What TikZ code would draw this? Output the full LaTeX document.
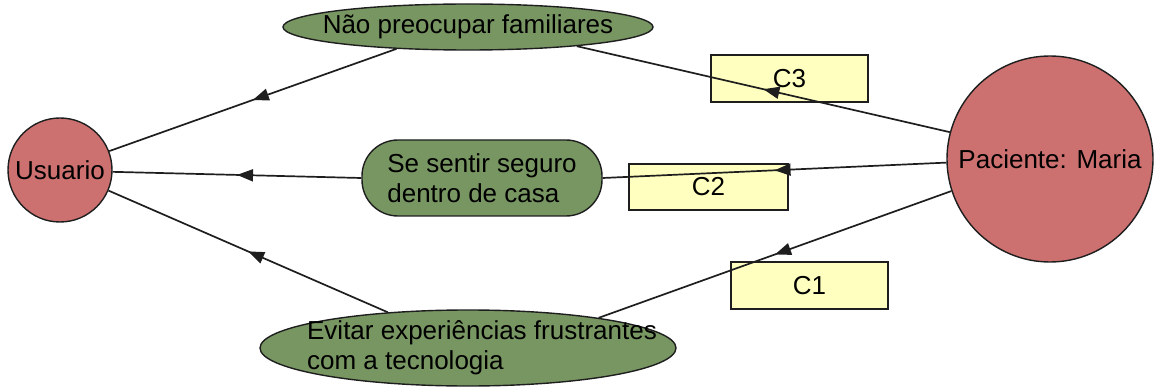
\documentclass[tikz,border=0pt]{standalone}
\usepackage{fontspec}
\setmainfont{Liberation Sans}
\usetikzlibrary{shapes.geometric,decorations.markings,arrows.meta,calc}
\definecolor{actorred}{RGB}{204,112,112}
\definecolor{goalgreen}{RGB}{120,150,98}
\definecolor{notefill}{RGB}{255,255,192}
\definecolor{edgecol}{RGB}{30,30,30}
\begin{document}
\begin{tikzpicture}[x=1pt,y=-1pt,
  every node/.style={font=\fontsize{26}{30}\selectfont, text=black},
  actor/.style={circle, draw=edgecol, line width=1.4pt, fill=actorred, inner sep=0pt},
  goalell/.style={ellipse, draw=edgecol, line width=1.4pt, fill=goalgreen, inner sep=0pt},
  goalrr/.style={rectangle, rounded corners=36pt, draw=edgecol, line width=1.4pt, fill=goalgreen, inner sep=0pt, align=left},
  notebox/.style={rectangle, draw=edgecol, line width=1.4pt, fill=notefill, inner sep=0pt},
  link/.style={draw=edgecol, line width=1.7pt, postaction={decorate},
    decoration={markings, mark=at position 0.5 with {\arrow{Triangle[length=16pt,width=12pt]}}}},
  txt/.style={inner sep=0pt, align=left}
]
\useasboundingbox (0,0) rectangle (1154,390);

% notes (drawn first, lines pass over them)
\node[notebox, minimum width=157, minimum height=47] (c3) at (789.5,78.5) {C3};
\node[notebox, minimum width=159, minimum height=46] (c2) at (708.5,187) {C2};
\node[notebox, minimum width=157, minimum height=47] (c1) at (809.5,285.5) {C1};

% actors
\node[actor, minimum size=104] (usu) at (60,170) {Usuario};
\node[actor, minimum size=206] (pac) at (1050,159) {Paciente: Maria};

% goals
\node[goalell, minimum width=370, minimum height=46] (g3) at (468,27) {};
\node[txt] (g3t) at (g3) {Não preocupar familiares};
\node[goalrr, minimum width=240, minimum height=76] (g2) at (482,178) {Se sentir seguro\\dentro de casa};
\node[goalell, minimum width=416, minimum height=76] (g1) at (468,348) {};
\node[txt] (g1t) at ($(g1)+(14,0)$) {Evitar experiências frustrantes\\com a tecnologia};

% connectors
\draw[link] (pac.165.8) -- (g3.-10);
\draw[link] (g3.197) -- (usu.21);
\draw[link] (pac.182) -- (g2.east);
\draw[link] (g2.west) -- (usu.-2);
\draw[link] (pac.198) -- (g1.13);
\draw[link] (g1.156) -- (usu.-23);
\end{tikzpicture}
\end{document}
